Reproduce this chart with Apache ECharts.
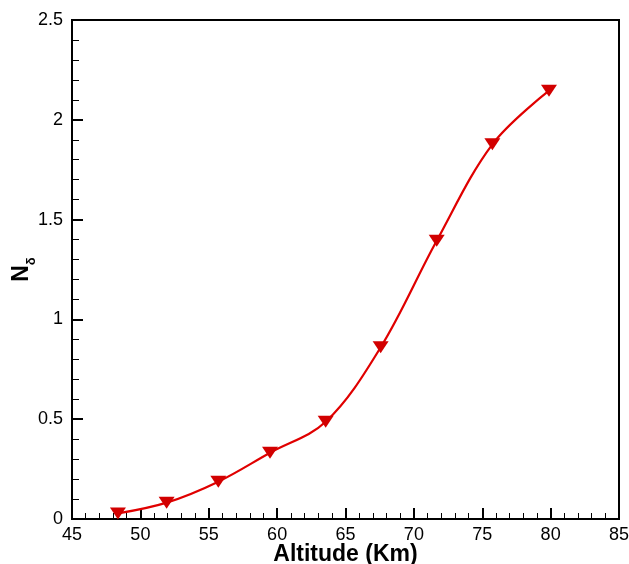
<!DOCTYPE html>
<html>
<head>
<meta charset="utf-8">
<script src="https://cdn.jsdelivr.net/npm/echarts@6/dist/echarts.min.js"></script>
<style>
html,body{margin:0;padding:0;background:#fff;}
#c{width:629px;height:564px;}
</style>
</head>
<body>
<div id="c"></div>
<script>
const altitude = [48.36, 51.92, 55.70, 59.48, 63.55, 67.57, 71.67, 75.74, 79.88];
const nDelta   = [0.028, 0.082, 0.187, 0.332, 0.487, 0.860, 1.394, 1.877, 2.146];
const xName = 'Altitude (Km)';

const chart = echarts.init(document.getElementById('c'), null, {renderer: 'canvas'});
const font = 'Liberation Sans, Arial, sans-serif';
chart.setOption({
  animation: false,
  backgroundColor: '#fff',
  grid: {left: 72, right: 10, top: 20, bottom: 45, show: true, borderColor: '#000', borderWidth: 2,
         backgroundColor: 'transparent', containLabel: false, outerBoundsMode: 'none'},
  xAxis: {
    type: 'value', min: 45, max: 85, interval: 5,
    name: xName, nameLocation: 'middle', nameGap: 24, nameMoveOverlap: false,
    nameTextStyle: {fontFamily: font, fontWeight: 'bold', fontSize: 23, color: '#000', verticalAlign: 'top'},
    axisLine: {show: true, lineStyle: {color: '#000', width: 2}},
    axisTick: {show: true, inside: true, length: 11, lineStyle: {color: '#000', width: 2}},
    minorTick: {show: true, splitNumber: 5, length: 6, lineStyle: {color: '#000', width: 1}},
    splitLine: {show: false},
    axisLabel: {fontFamily: font, fontSize: 18, color: '#000', margin: 7}
  },
  yAxis: {
    type: 'value', min: 0, max: 2.5, interval: 0.5,
    name: '{n|N}{s|δ}', nameLocation: 'middle', nameGap: 39, nameRotate: 90, nameMoveOverlap: false,
    nameTextStyle: {
      rich: {
        n: {fontFamily: font, fontWeight: 'bold', fontSize: 23, color: '#000', lineHeight: 26, verticalAlign: 'bottom'},
        s: {fontFamily: font, fontWeight: 'bold', fontSize: 13, color: '#000', lineHeight: 26, verticalAlign: 'bottom', padding: [0, 0, -5, 0]}
      }
    },
    axisLine: {show: true, lineStyle: {color: '#000', width: 2}},
    axisTick: {show: true, inside: true, length: 11, lineStyle: {color: '#000', width: 2}},
    minorTick: {show: true, splitNumber: 5, length: 7, lineStyle: {color: '#000', width: 1}},
    splitLine: {show: false},
    axisLabel: {fontFamily: font, fontSize: 18, color: '#000', margin: 9}
  },
  series: [{
    type: 'line',
    data: altitude.map((a, i) => [a, nDelta[i]]),
    smooth: 0.35,
    symbol: 'triangle',
    symbolRotate: 180,
    symbolSize: [16, 12],
    itemStyle: {color: '#d20000'},
    lineStyle: {color: '#e00000', width: 2.2},
    clip: false
  }]
});
</script>
</body>
</html>
